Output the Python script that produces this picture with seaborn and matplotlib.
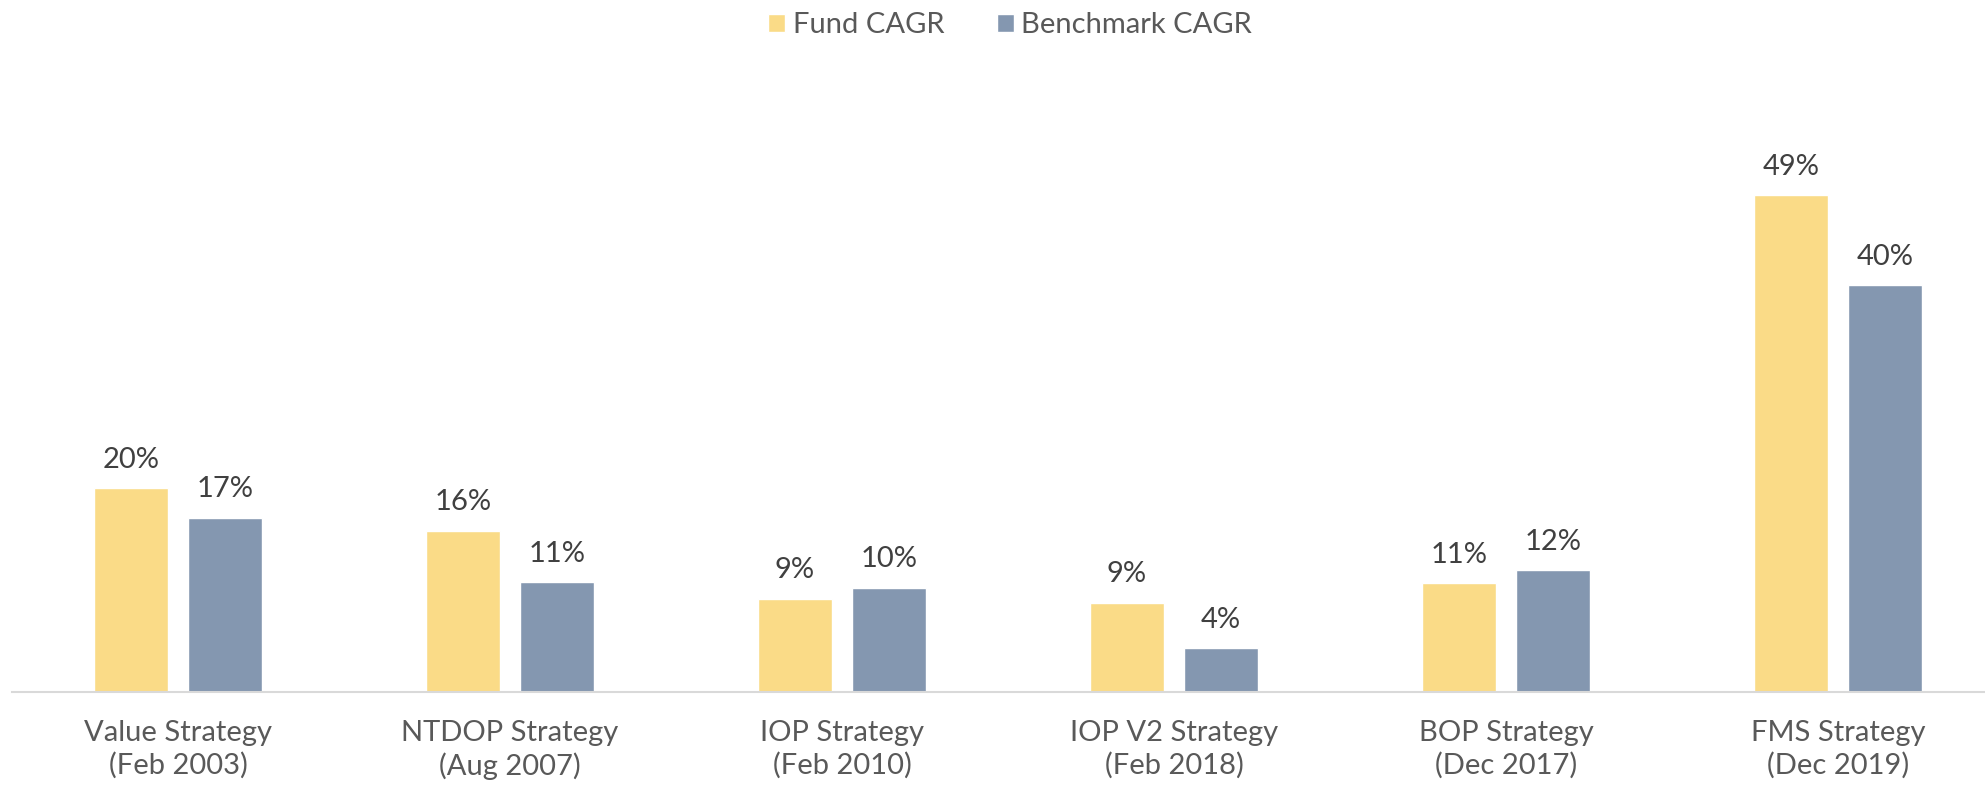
import matplotlib
matplotlib.use("Agg")
import matplotlib.pyplot as plt
import seaborn as sns
import pandas as pd

categories = ["Value Strategy\n(Feb 2003)", "NTDOP Strategy\n(Aug 2007)", "IOP Strategy\n(Feb 2010)",
              "IOP V2 Strategy\n(Feb 2018)", "BOP Strategy\n(Dec 2017)", "FMS Strategy\n(Dec 2019)"]
fund_cagr = [20.1, 15.9, 9.2, 8.8, 10.75, 49.0]
bench_cagr = [17.2, 10.85, 10.3, 4.3, 12.0, 40.1]
series_names = ["Fund CAGR", "Benchmark CAGR"]
colors = ["#FADB87", "#8497B0"]

df = pd.DataFrame({
    "Strategy": categories * 2,
    "Series": [series_names[0]] * len(categories) + [series_names[1]] * len(categories),
    "CAGR": fund_cagr + bench_cagr,
})

sns.set_theme(style="white")
plt.rcParams["font.family"] = ["Lato", "DejaVu Sans"]

W, H = 1985, 787
fig = plt.figure(figsize=(W / 100, H / 100), dpi=100)
ax_left, ax_right = 12, 2004
ax_bottom, ax_top = 692, 100
ax = fig.add_axes([ax_left / W, (H - ax_bottom) / H, (ax_right - ax_left) / W, (ax_bottom - ax_top) / H])

sns.barplot(data=df, x="Strategy", y="CAGR", hue="Series", palette=colors,
            width=0.566, gap=0.213, ax=ax, legend=True, saturation=1)

ax.set_ylim(0, (ax_bottom - ax_top) / 10.14)
ax.set_xlim(-0.5, len(categories) - 0.5)

for cont in ax.containers:
    vals = cont.datavalues
    ax.bar_label(cont, labels=[f"{round(v)}%" for v in vals], padding=11,
                 fontsize=21, color="#404040")

ax.set_xlabel("")
ax.set_ylabel("")
ax.set_yticks([])
ax.tick_params(axis="x", length=0, pad=20, labelsize=21, labelcolor="#595959")
for lbl in ax.get_xticklabels():
    lbl.set_linespacing(1.3)

for s in ["top", "left", "right"]:
    ax.spines[s].set_visible(False)
ax.spines["bottom"].set_color("#D9D9D9")
ax.spines["bottom"].set_linewidth(1.5)

leg = ax.legend(loc="upper center", bbox_to_anchor=(1010 / W, 1 + 14 / H), bbox_transform=fig.transFigure,
                ncol=2, frameon=False, fontsize=21, handlelength=0.6, handleheight=0.6,
                handletextpad=0.25, columnspacing=1.8, labelcolor="#595959")

fig.savefig("out.png", dpi=100)
